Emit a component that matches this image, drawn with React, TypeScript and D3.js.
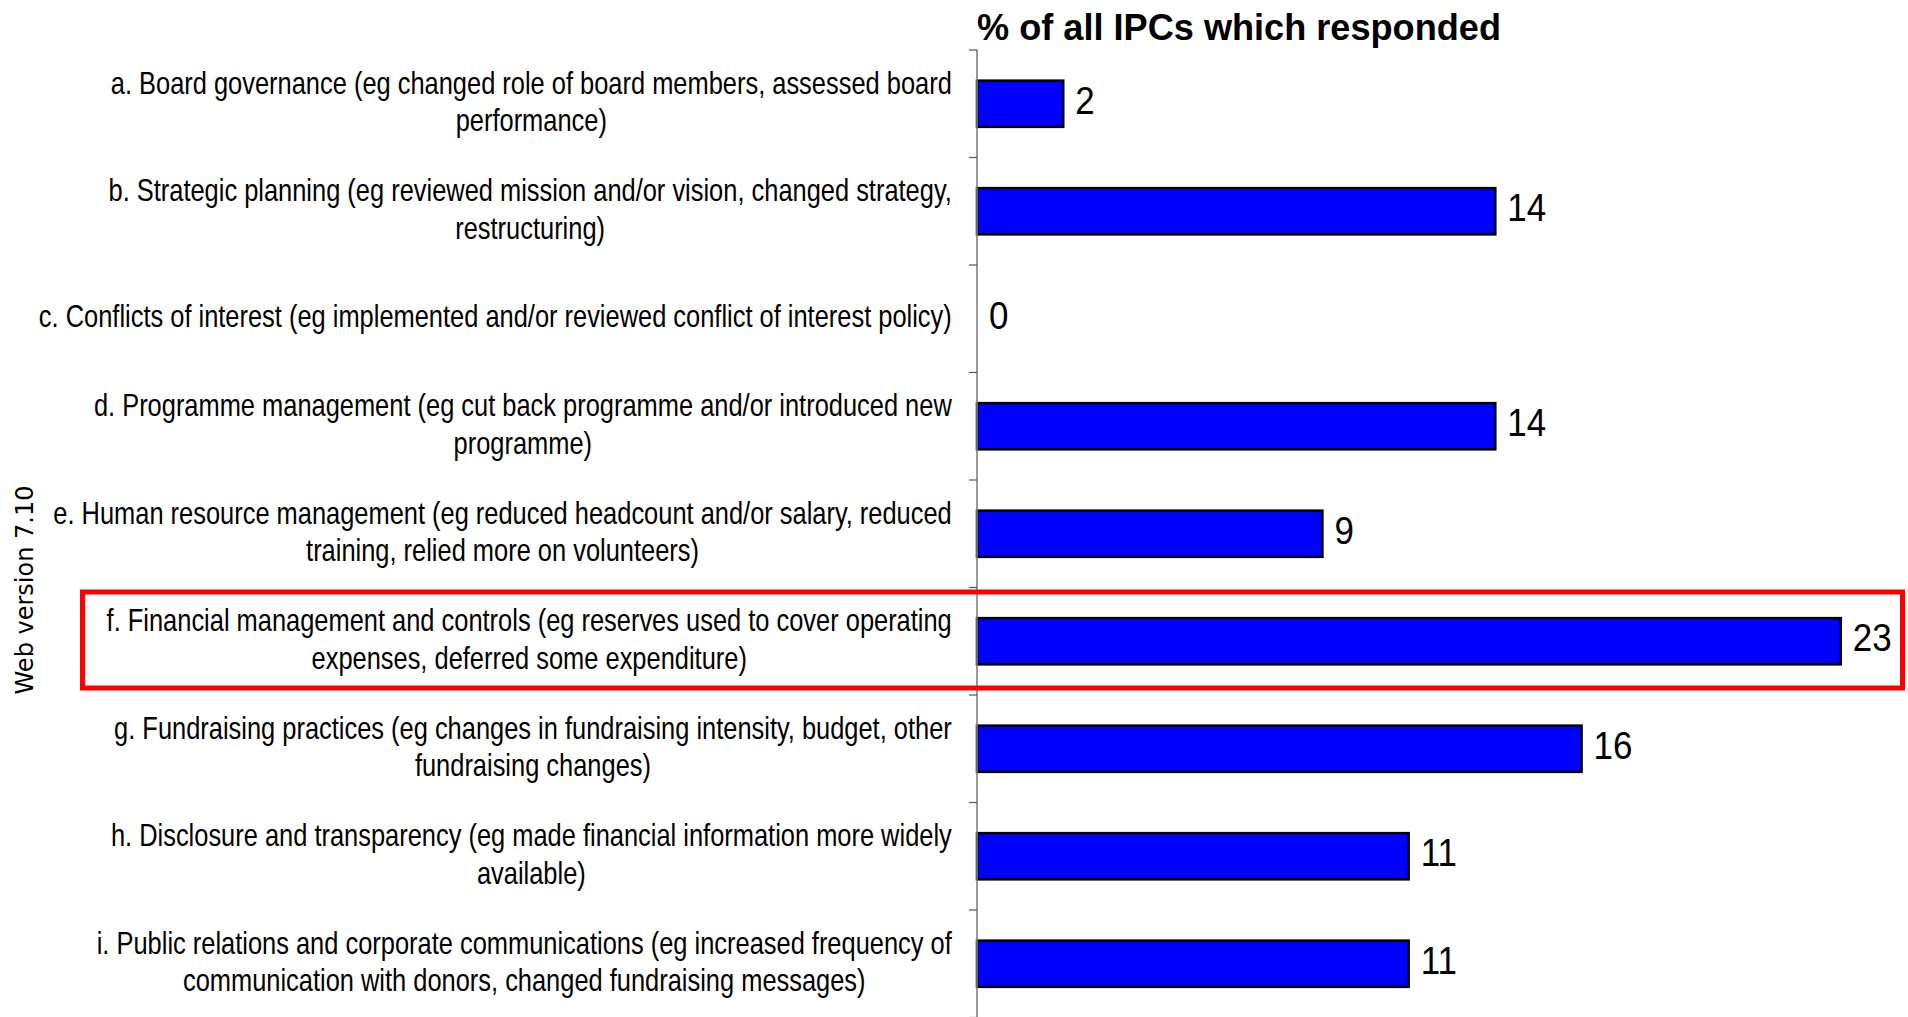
import React from "react";
import * as d3 from "d3";

const categories = ["a", "b", "c", "d", "e", "f", "g", "h", "i"];
const labelLines: string[][] = [
  ["a. Board governance (eg changed role of board members, assessed board", "performance)"],
  ["b. Strategic planning (eg reviewed mission and/or vision, changed strategy,", "restructuring)"],
  ["c. Conflicts of interest (eg implemented and/or reviewed conflict of interest policy)"],
  ["d. Programme management (eg cut back programme and/or introduced new", "programme)"],
  ["e. Human resource management (eg reduced headcount and/or salary, reduced", "training, relied more on volunteers)"],
  ["f. Financial management and controls (eg reserves used to cover operating", "expenses, deferred some expenditure)"],
  ["g. Fundraising practices (eg changes in fundraising intensity, budget, other", "fundraising changes)"],
  ["h. Disclosure and transparency (eg made financial information more widely", "available)"],
  ["i. Public relations and corporate communications (eg increased frequency of", "communication with donors, changed fundraising messages)"],
];
const values = [2.27, 13.64, 0, 13.64, 9.09, 22.73, 15.91, 11.36, 11.36];
const highlighted = "f";
const title = "% of all IPCs which responded";
const sideNote = "Web version 7.10";
const xDomain = [0, 25];

const W = 1908;
const H = 1017;
const AXIS_X = 977;
const TOP = 50;
const STEP = 107.5;
const LABEL_RIGHT = 952;
const LABEL_FS = 32;
const LABEL_SX = 0.795;
const LINE_GAP = 37.5;
const FONT = '"Liberation Sans", Arial, sans-serif';

let ctx: CanvasRenderingContext2D | null = null;
function measure(text: string, font: string): number {
  if (!ctx) {
    const c = document.createElement("canvas");
    ctx = c.getContext("2d");
  }
  if (!ctx) return text.length * 14;
  ctx.font = font;
  return ctx.measureText(text).width;
}

export default function App() {
  const y = d3
    .scaleBand<string>()
    .domain(categories)
    .range([TOP, TOP + categories.length * STEP])
    .paddingInner(0.57)
    .paddingOuter(0.285);
  const x = d3.scaleLinear().domain(xDomain).range([AXIS_X, AXIS_X + 25 * 38]);
  const fmt = d3.format(".0f");
  const labelFont = `${LABEL_FS}px "Liberation Sans"`;

  const tickYs = d3.range(categories.length + 1).map((i) => TOP + i * STEP);
  const hiIdx = categories.indexOf(highlighted);
  const hiTop = TOP + hiIdx * STEP + 4.5;
  const hiBottom = TOP + (hiIdx + 1) * STEP - 7;

  return (
    <svg
      width={W}
      height={H}
      style={{ position: "absolute", left: 0, top: 0, display: "block", background: "#fff" }}
    >
      <text
        x={AXIS_X}
        y={40}
        fontFamily={FONT}
        fontWeight="bold"
        fontSize={37}
        textLength={524}
        lengthAdjust="spacingAndGlyphs"
        fill="#000"
      >
        {title}
      </text>

      <text
        transform="translate(33,590) rotate(-90)"
        textAnchor="middle"
        fontFamily='"DejaVu Sans", Verdana, sans-serif'
        fontSize={24}
        fill="#000"
      >
        {sideNote}
      </text>

      {categories.map((c, i) => {
        const lines = labelLines[i];
        const widths = lines.map((l) => measure(l, labelFont) * LABEL_SX);
        const blockW = Math.max(...widths);
        const cx = LABEL_RIGHT - blockW / 2;
        const cy = (y(c) as number) + y.bandwidth() / 2;
        const n = lines.length;
        return (
          <g key={c}>
            {lines.map((l, j) => {
              const baseline = cy + (j - (n - 1) / 2) * LINE_GAP + 8.5;
              return (
                <text
                  key={j}
                  transform={`translate(${cx},${baseline}) scale(${LABEL_SX},1)`}
                  textAnchor="middle"
                  fontFamily={FONT}
                  fontSize={LABEL_FS}
                  fill="#000"
                >
                  {l}
                </text>
              );
            })}
          </g>
        );
      })}

      {categories.map((c, i) => {
        const v = values[i];
        const by = y(c) as number;
        const bh = y.bandwidth();
        return (
          <g key={"bar" + c}>
            {v > 0 && (
              <rect
                x={x(0)}
                y={by}
                width={x(v) - x(0)}
                height={bh}
                fill="#0000FF"
                stroke="#000"
                strokeWidth={2.5}
              />
            )}
            <text
              transform={`translate(${x(v) + 12},${by + bh / 2 + 10}) scale(0.92,1)`}
              fontFamily={FONT}
              fontSize={38}
              fill="#000"
            >
              {fmt(v)}
            </text>
          </g>
        );
      })}

      <line x1={AXIS_X} x2={AXIS_X} y1={TOP} y2={H + 5} stroke="#808080" strokeWidth={1.6} />
      {tickYs.map((ty, i) => (
        <line key={i} x1={AXIS_X - 8} x2={AXIS_X} y1={ty} y2={ty} stroke="#555" strokeWidth={1.2} />
      ))}

      <rect
        x={82.5}
        y={hiTop}
        width={1902.5 - 82.5}
        height={hiBottom - hiTop}
        fill="none"
        stroke="#FF0000"
        strokeWidth={5}
      />
    </svg>
  );
}
